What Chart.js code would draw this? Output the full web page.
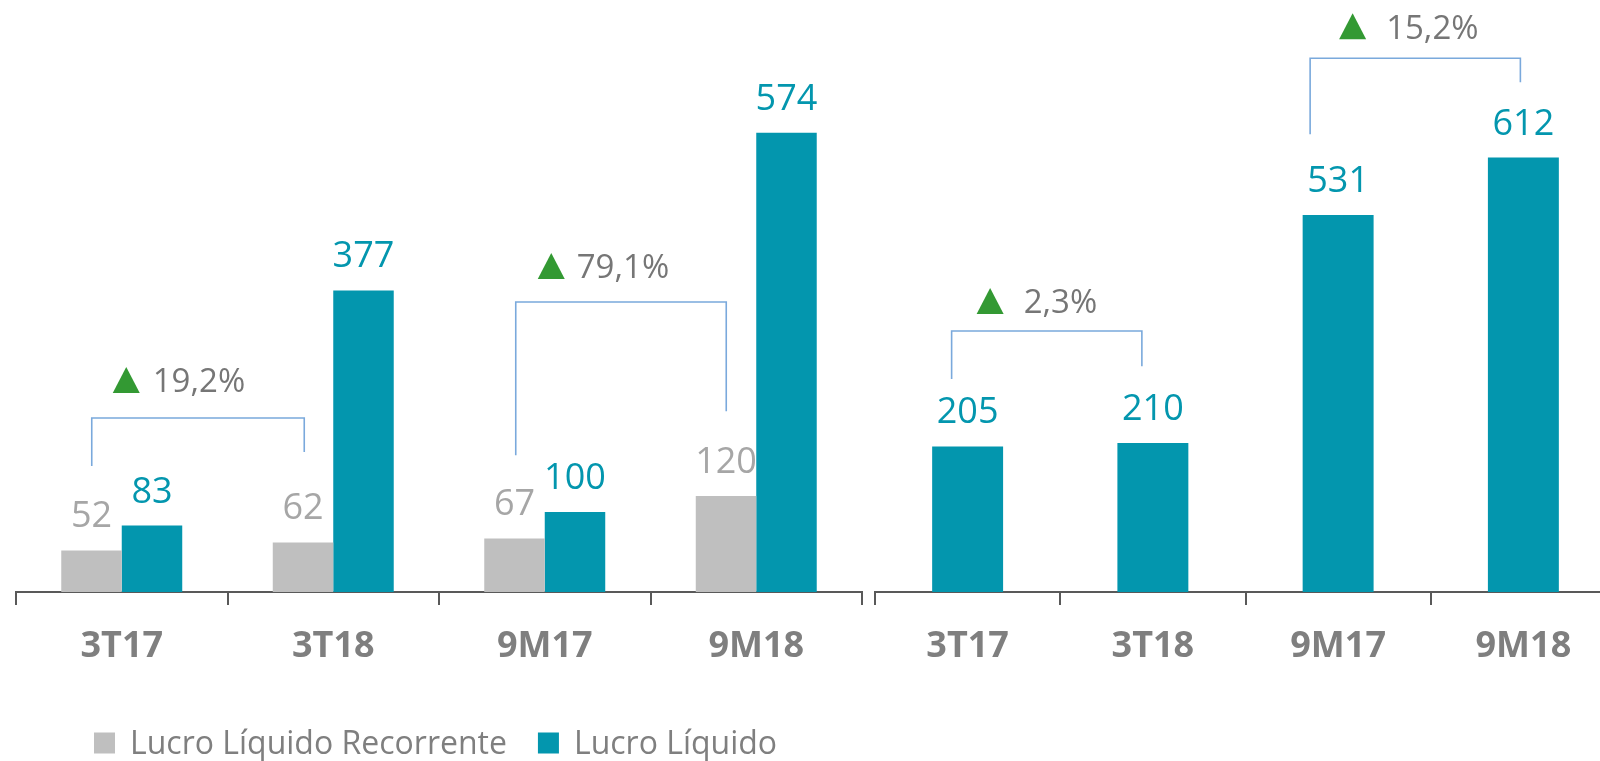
<!DOCTYPE html>
<html>
<head>
<meta charset="utf-8">
<script src="https://cdn.jsdelivr.net/npm/chart.js@4.4.1/dist/chart.umd.min.js"></script>
<style>
  html, body { margin: 0; padding: 0; background: #fff; overflow: hidden; width: 1600px; height: 761px; }
  #c1 { position: absolute; left: 0; top: 0; }
  #c2 { position: absolute; left: 868px; top: 0; }
</style>
</head>
<body>
<canvas id="c1" width="868" height="761"></canvas>
<canvas id="c2" width="750" height="761"></canvas>
<script>
// Chart data
const categories = ['3T17', '3T18', '9M17', '9M18'];
const seriesNames = ['Lucro Líquido Recorrente', 'Lucro Líquido'];
const recorrenteLeft = [52, 62, 67, 120];
const lucroLeft = [83, 377, 100, 574];
const lucroRight = [205, 210, 531, 612];
const growthLeft = ['19,2%', '79,1%'];
const growthRight = ['2,3%', '15,2%'];
const growthPairs = [[0, 1], [2, 3]];

const GRAY = '#bfbfbf';
const TEAL = '#0396ae';
const AXIS = '#595959';

// Values above each bar
const valueLabels = {
  id: 'valueLabels',
  afterDatasetsDraw(chart, args, opts) {
    const ctx = chart.ctx;
    chart.data.datasets.forEach((ds, i) => {
      const meta = chart.getDatasetMeta(i);
      ctx.save();
      ctx.font = opts.fonts[i];
      ctx.fillStyle = opts.colors[i];
      ctx.textAlign = 'center';
      ctx.textBaseline = 'alphabetic';
      meta.data.forEach((bar, j) => {
        ctx.fillText(String(ds.data[j]), bar.x, bar.y - opts.gap);
      });
      ctx.restore();
    });
  }
};

// Growth brackets with green triangle and percentage
const growthBrackets = {
  id: 'growthBrackets',
  afterDraw(chart, args, opts) {
    const { ctx, scales: { x, y } } = chart;
    opts.items.forEach((b, k) => {
      const [from, to] = growthPairs[k];
      const x1 = x.getPixelForValue(from) + b.dx[0];
      const x2 = x.getPixelForValue(to) + b.dx[1];
      const yTop = y.getPixelForValue(b.top);
      ctx.save();
      ctx.strokeStyle = '#7aa9dc';
      ctx.lineWidth = 1.6;
      ctx.beginPath();
      ctx.moveTo(x1, y.getPixelForValue(b.legs[0]));
      ctx.lineTo(x1, yTop);
      ctx.lineTo(x2, yTop);
      ctx.lineTo(x2, y.getPixelForValue(b.legs[1]));
      ctx.stroke();

      const cy = yTop - b.textDy;
      const tx = x1 + b.tri;
      ctx.fillStyle = '#339933';
      ctx.beginPath();
      ctx.moveTo(tx, cy + 11);
      ctx.lineTo(tx + 27, cy + 11);
      ctx.lineTo(tx + 13.5, cy - 15);
      ctx.closePath();
      ctx.fill();

      ctx.font = '33px "Open Sans"';
      ctx.fillStyle = '#767676';
      ctx.textAlign = 'left';
      ctx.textBaseline = 'middle';
      ctx.fillText(opts.labels[k], tx + 27 + b.gap, cy + 1);
      ctx.restore();
    });
  }
};

// Legend under the left chart
const bottomLegend = {
  id: 'bottomLegend',
  afterDraw(chart, args, o) {
    if (!o.show) return;
    const ctx = chart.ctx;
    let x = o.x;
    ctx.save();
    ctx.font = '32px "Open Sans"';
    ctx.textBaseline = 'middle';
    chart.data.datasets.forEach(ds => {
      ctx.fillStyle = ds.backgroundColor;
      ctx.fillRect(x, o.y - 10.5, 21, 21);
      x += 21 + 15;
      ctx.fillStyle = '#7f7f7f';
      ctx.fillText(ds.label, x, o.y + 2);
      x += ctx.measureText(ds.label).width + 31;
    });
    ctx.restore();
  }
};

function xAxis() {
  return {
    offset: true,
    afterFit: (s) => { s.height = 169; },
    grid: { display: true, drawOnChartArea: false, drawTicks: true, tickLength: 13, color: AXIS, lineWidth: 2 },
    border: { display: true, color: AXIS, width: 2 },
    ticks: { color: '#7f7f7f', padding: 20, font: { family: 'Open Sans', size: 36, weight: 'bold' } }
  };
}

new Chart(document.getElementById('c1'), {
  type: 'bar',
  data: {
    labels: categories,
    datasets: [
      { label: seriesNames[0], data: recorrenteLeft, backgroundColor: GRAY },
      { label: seriesNames[1], data: lucroLeft, backgroundColor: TEAL }
    ]
  },
  options: {
    responsive: false,
    animation: false,
    layout: { padding: { left: 16, right: 6, top: 0, bottom: 0 } },
    datasets: { bar: { categoryPercentage: 0.572, barPercentage: 1 } },
    scales: {
      x: xAxis(),
      y: { display: false, min: 0, max: 740 }
    },
    plugins: {
      legend: { display: false },
      tooltip: { enabled: false },
      valueLabels: { gap: 23, fonts: ['36px "Open Sans"', '500 36px "Open Sans"'], colors: ['#a6a6a6', TEAL] },
      growthBrackets: {
        labels: growthLeft,
        items: [
          { dx: [-30, -29], top: 217.5, legs: [157.5, 175], textDy: 36, tri: 21, gap: 13 },
          { dx: [-29, -30], top: 362.5, legs: [171, 226], textDy: 34, tri: 22, gap: 12 }
        ]
      },
      bottomLegend: { show: true, x: 94, y: 743 }
    }
  },
  plugins: [valueLabels, growthBrackets, bottomLegend]
});

new Chart(document.getElementById('c2'), {
  type: 'bar',
  data: {
    labels: categories,
    datasets: [
      { label: seriesNames[1], data: lucroRight, backgroundColor: TEAL }
    ]
  },
  options: {
    responsive: false,
    animation: false,
    layout: { padding: { left: 7, right: 2, top: 0, bottom: 0 } },
    datasets: { bar: { categoryPercentage: 1, barPercentage: 0.383 } },
    scales: {
      x: xAxis(),
      y: { display: false, min: 0, max: 834 }
    },
    plugins: {
      legend: { display: false },
      tooltip: { enabled: false },
      valueLabels: { gap: 23, fonts: ['36px "Open Sans"'], colors: [TEAL] },
      growthBrackets: {
        labels: growthRight,
        items: [
          { dx: [-16, -11], top: 367.6, legs: [300, 318], textDy: 28, tri: 25, gap: 20 },
          { dx: [-28, -3], top: 752, legs: [645, 718], textDy: 30, tri: 29, gap: 20 }
        ]
      },
      bottomLegend: { show: false }
    }
  },
  plugins: [valueLabels, growthBrackets, bottomLegend]
});
</script>
</body>
</html>
